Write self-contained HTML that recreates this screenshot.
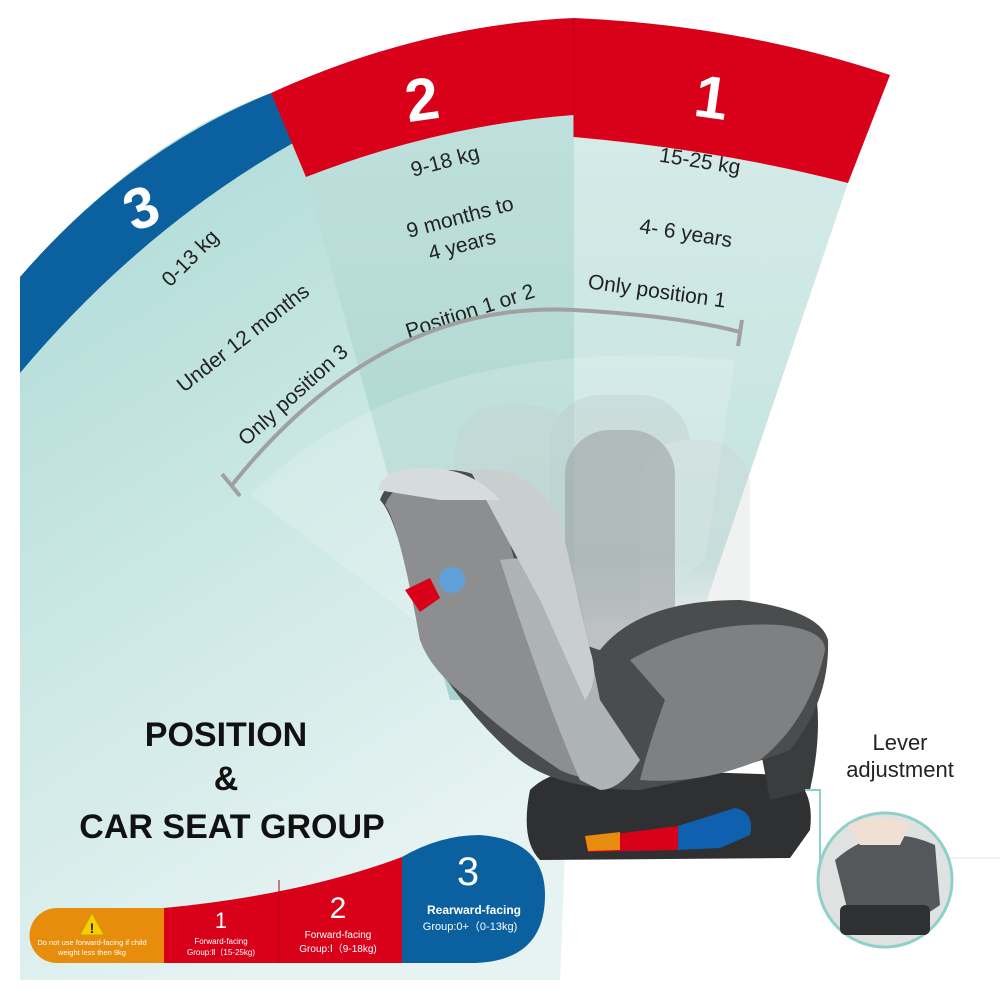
<!DOCTYPE html>
<html><head><meta charset="utf-8"><style>
html,body{margin:0;padding:0;background:#fff;}
svg{display:block;}
text{font-family:"Liberation Sans",sans-serif;}
</style></head><body>
<svg width="1000" height="1000" viewBox="0 0 1000 1000" xmlns="http://www.w3.org/2000/svg">
<defs>
<linearGradient id="bg" x1="0" y1="0" x2="0.4" y2="1">
<stop offset="0" stop-color="#a9d9d4"/><stop offset="1" stop-color="#e6f3f2"/></linearGradient>
<linearGradient id="s2" x1="0" y1="0" x2="0" y2="1">
<stop offset="0" stop-color="#bfe0dc"/><stop offset="1" stop-color="#a8d3cf"/></linearGradient>
<linearGradient id="s1" x1="0" y1="0" x2="0" y2="1">
<stop offset="0" stop-color="#d4ebe8"/><stop offset="1" stop-color="#c2e2de"/></linearGradient>
<linearGradient id="fade" x1="0" y1="0" x2="0" y2="1">
<stop offset="0" stop-color="#fff" stop-opacity="0"/><stop offset="1" stop-color="#fff" stop-opacity="0.9"/></linearGradient>
</defs>
<path d="M20,277 Q140,140 271,93 L440,300 L575,600 L560,980 L20,980 Z" fill="url(#bg)"/>
<path d="M306,177 Q440,125 574,115 L574,700 L450,700 Z" fill="url(#s2)"/>
<path d="M574,137 Q720,150 848,183 L700,620 L574,620 Z" fill="url(#s1)"/>
<path d="M560,560 L720,560 L700,620 L560,640 Z" fill="url(#fade)"/>
<path d="M250,495 Q420,330 735,360 L705,560 L520,700 Z" fill="#ffffff" fill-opacity="0.18"/>
<path d="M20,277 Q130,150 271,93 L293,143 Q140,230 20,373 Z" fill="#0b60a0"/>
<path d="M271,93 Q420,25 574,18 Q740,25 890,75 L848,183 Q720,150 574,137 L574,115 Q440,125 306,177 Z" fill="#d9001a"/>
<line x1="574" y1="18" x2="574" y2="137" stroke="#c40018" stroke-width="1"/>
<text x="140" y="228" font-size="58" font-weight="bold" fill="#fff" text-anchor="middle" transform="rotate(-22 140 205)">3</text>
<text x="422" y="120" font-size="60" font-weight="bold" fill="#fff" text-anchor="middle" transform="rotate(-8 422 100)">2</text>
<text x="712" y="118" font-size="60" font-weight="bold" fill="#fff" text-anchor="middle" transform="rotate(8 712 95)">1</text>
<g font-size="21" fill="#222" text-anchor="middle">
<text x="190" y="265" transform="rotate(-45 190 258)">0-13 kg</text>
<text x="243" y="345" transform="rotate(-38 243 338)">Under 12 months</text>
<text x="293" y="402" transform="rotate(-42 293 395)">Only position 3</text>
<text x="445" y="168" transform="rotate(-15 445 161)">9-18 kg</text>
<text x="460" y="224" transform="rotate(-15 460 217)">9 months to</text>
<text x="462" y="252" transform="rotate(-15 462 245)">4 years</text>
<text x="470" y="318" transform="rotate(-18 470 311)">Position 1 or 2</text>
<text x="700" y="168" transform="rotate(9 700 161)">15-25 kg</text>
<text x="686" y="240" transform="rotate(9 686 233)">4- 6 years</text>
<text x="657" y="298" transform="rotate(8 657 291)">Only position 1</text>
</g>
<path d="M232,485 Q380,300 574,310 Q680,316 740,332" fill="none" stroke="#a0a0a0" stroke-width="4"/>
<line x1="222" y1="474" x2="240" y2="496" stroke="#a0a0a0" stroke-width="4"/>
<line x1="742" y1="320" x2="738" y2="346" stroke="#a0a0a0" stroke-width="4"/>
<g opacity="0.3">
<rect x="455" y="405" width="120" height="260" rx="45" fill="#c8cccc"/>
<rect x="550" y="395" width="140" height="280" rx="50" fill="#bcc2c2"/>
<rect x="640" y="440" width="110" height="230" rx="45" fill="#d0d4d4"/>
</g>
<rect x="565" y="430" width="110" height="240" rx="45" fill="#9a9c9e" opacity="0.55"/>
<path d="M530,790 Q560,760 640,770 L790,775 Q815,790 810,830 L790,858 L540,860 Q520,840 530,790 Z" fill="#2e3032"/>
<path d="M585,838 L678,826 L678,850 L588,852 Z" fill="#d9001a"/>
<path d="M585,836 L620,832 L620,850 L588,851 Z" fill="#e88c10"/>
<path d="M678,826 L735,808 Q755,812 750,835 L720,848 L678,850 Z" fill="#1060b0"/>
<path d="M740,640 L800,640 Q830,700 810,790 L770,800 Z" fill="#3a3c3e"/>
<path d="M420,640 Q400,520 380,500 Q390,470 440,470 Q500,468 510,520 L520,560 L550,590 Q560,640 600,650 Q640,600 740,600 Q820,610 828,640 Q830,700 790,750 Q740,770 640,790 Q560,790 520,760 Q470,720 420,640 Z" fill="#4a4c4e"/>
<path d="M420,640 Q398,520 385,505 Q395,478 440,478 Q495,478 505,525 L525,600 Q540,700 580,770 L610,780 Q580,780 560,770 Q500,730 470,700 Q430,670 420,640 Z" fill="#8c8e90"/>
<path d="M500,560 Q560,550 580,600 L600,700 L640,760 Q620,790 600,790 L580,780 Q545,700 500,560 Z" fill="#aeb3b3"/>
<path d="M630,660 Q700,620 780,625 Q825,630 825,650 Q810,720 760,760 Q700,785 640,780 Q650,740 665,700 Z" fill="#7e8082"/>
<path d="M470,470 Q530,462 560,520 L590,650 Q600,680 585,700 L540,600 Z" fill="#c9cfcf"/>
<path d="M378,490 Q380,470 420,468 Q470,466 500,500 L440,500 Z" fill="#d6dcdc"/>
<path d="M430,578 L440,598 L420,612 L405,590 Z" fill="#d9001a"/>
<circle cx="452" cy="580" r="13" fill="#5fa0d8"/>
<text x="900" y="750" font-size="22" fill="#222" text-anchor="middle">Lever</text>
<text x="900" y="777" font-size="22" fill="#222" text-anchor="middle">adjustment</text>
<path d="M805,790 L820,790 L820,880 L835,880" fill="none" stroke="#8fd0c8" stroke-width="2"/>
<line x1="840" y1="858" x2="1000" y2="858" stroke="#e6e6e6" stroke-width="1"/>
<circle cx="885" cy="880" r="67" fill="#e0e2e2" stroke="#8fd0c8" stroke-width="3"/>
<path d="M835,860 Q880,820 935,845 L940,905 Q900,935 850,920 Z" fill="#55585a"/>
<path d="M848,825 Q875,810 910,825 L900,845 L860,845 Z" fill="#f0e0d4"/>
<rect x="840" y="905" width="90" height="30" rx="6" fill="#2e3032"/>
<g font-size="34" font-weight="bold" fill="#111" text-anchor="middle">
<text x="226" y="746">POSITION</text>
<text x="226" y="790">&amp;</text>
<text x="232" y="838">CAR SEAT GROUP</text>
</g>
<path d="M57,908 L164,908 L164,963 L57,963 A27.5,27.5 0 0 1 57,908 Z" fill="#e88c0c"/>
<path d="M164,908 Q300,895 402,857 L402,963 L164,963 Z" fill="#d9001a"/>
<line x1="279" y1="880" x2="279" y2="963" stroke="#b80016" stroke-width="1"/>
<path d="M402,857 Q440,835 480,835 Q545,840 545,895 Q545,963 470,963 L402,963 Z" fill="#0b60a0"/>
<polygon points="92,913 80,935 104,935" fill="#f5d000" stroke="#c9a000" stroke-width="1"/>
<text x="92" y="933" font-size="14" font-weight="bold" fill="#222" text-anchor="middle">!</text>
<g fill="#fff" text-anchor="middle">
<text x="92" y="945" font-size="7.5">Do not use forward-facing if child</text>
<text x="92" y="955" font-size="7.5">weight less then 9kg</text>
<text x="221" y="928" font-size="22">1</text>
<text x="221" y="944" font-size="8">Forward-facing</text>
<text x="221" y="955" font-size="8">Group:Ⅱ（15-25kg)</text>
<text x="338" y="918" font-size="30">2</text>
<text x="338" y="938" font-size="10">Forward-facing</text>
<text x="338" y="952" font-size="10">Group:Ⅰ（9-18kg)</text>
<text x="468" y="885" font-size="40">3</text>
<text x="474" y="914" font-size="12" font-weight="bold">Rearward-facing</text>
<text x="470" y="930" font-size="11">Group:0+（0-13kg)</text>
</g>
</svg>
</body></html>
